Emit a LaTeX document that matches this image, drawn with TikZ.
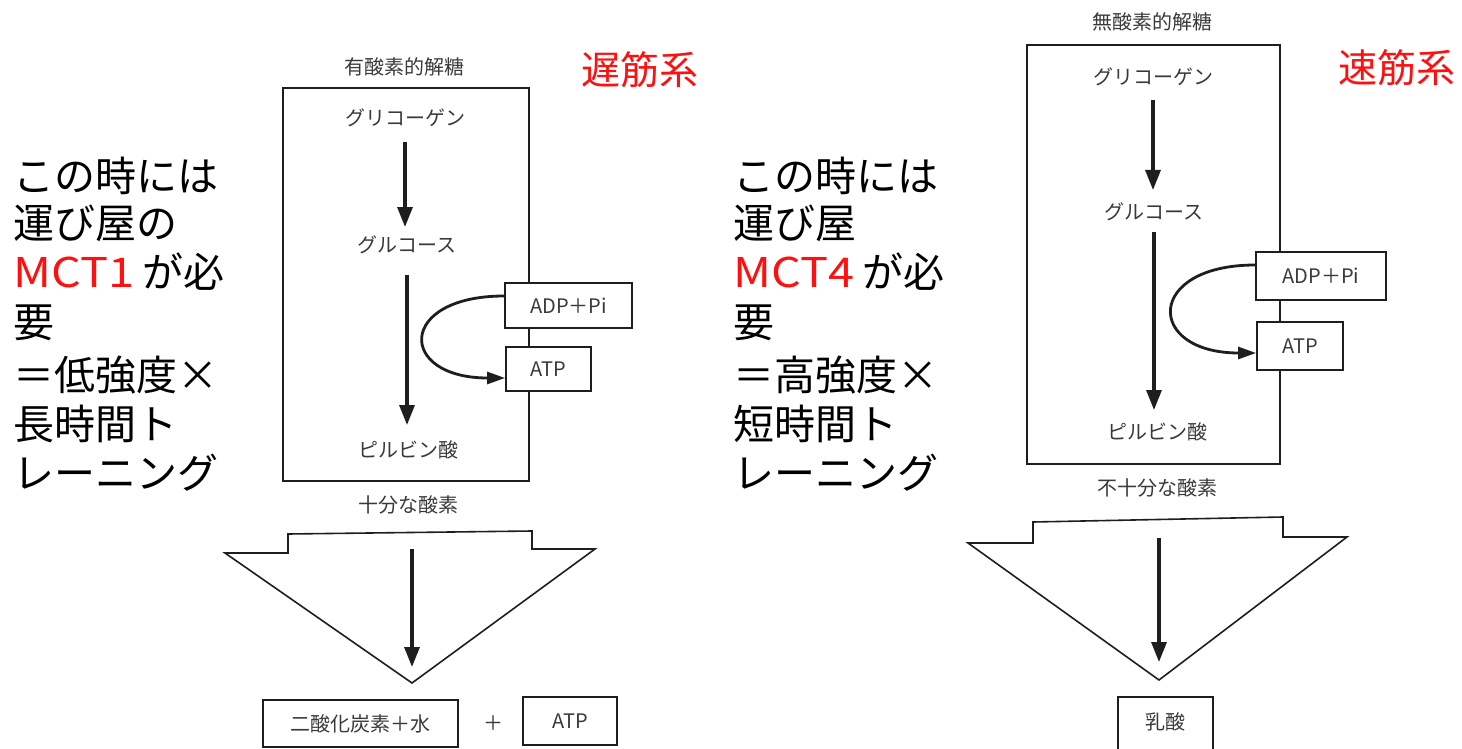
\documentclass[tikz,border=0pt]{standalone}
\usepackage{fontspec}
\setmainfont{Noto Sans CJK JP}
\usetikzlibrary{arrows.meta}
\definecolor{txtgray}{HTML}{3A3A3A}
\definecolor{linec}{HTML}{1E1E1E}
\definecolor{redc}{HTML}{FF1010}
\newcommand{\widemct}[1]{\textcolor{redc}{\scalebox{1.14}[1]{#1}}\hspace{4pt}}
\tikzset{
  lab/.style={font=\fontsize{10}{12}\selectfont, text=txtgray, inner sep=1pt},
  big/.style={font=\fontsize{20.5}{25}\selectfont, text=black, anchor=west, inner sep=0pt},
  redtitle/.style={font=\fontsize{19.5}{23}\selectfont, text=redc, inner sep=0pt},
  boxnode/.style={draw=linec, line width=0.9pt, fill=white, inner sep=0pt, font=\fontsize{10}{12}\selectfont, text=txtgray},
  frame/.style={draw=linec, line width=0.9pt},
  funnel/.style={draw=linec, line width=0.8pt, fill=white, line join=miter},
  arr/.style={draw=linec, line width=1.6pt, -{Triangle[length=10pt,width=7.5pt]}},
  carr/.style={draw=linec, line width=1.4pt, -{Triangle[length=9pt,width=6pt]}}
}
\begin{document}
\begin{tikzpicture}[x=0.5pt,y=-0.5pt]
\useasboundingbox[fill=white] (0,0) rectangle (1462,749);

% ---------- left annotation ----------
\node[big] (l1) at (13,176) {この時には};
\node[big] (l2) at (13,223) {運び屋の};
\node[big] (l3) at (13,272) {\widemct{MCT1}が必};
\node[big] (l4) at (13,323) {要};
\node[big] (l5) at (13,375) {＝低強度×};
\node[big] (l6) at (13,424) {長時間ト};
\node[big] (l7) at (13,473) {レーニング};

% ---------- right annotation ----------
\node[big] (r1) at (733,176) {この時には};
\node[big] (r2) at (733,223) {運び屋};
\node[big] (r3) at (733,272) {\widemct{MCT4}が必};
\node[big] (r4) at (733,323) {要};
\node[big] (r5) at (733,375) {＝高強度×};
\node[big] (r6) at (733,424) {短時間ト};
\node[big] (r7) at (733,473) {レーニング};

% ---------- red titles ----------
\node[redtitle] (slow) at (640,70) {遅筋系};
\node[redtitle] (fast) at (1397,68) {速筋系};

% ================= LEFT DIAGRAM =================
\node[lab] (ltitle) at (404,67) {有酸素的解糖};
\draw[frame] (283,88) rectangle (529,481);
\node[lab] (lgly) at (405,118) {グリコーゲン};
\node[lab] (lglu) at (407,245) {グルコース};
\node[lab] (lpyr) at (408,450) {ピルビン酸};
\draw[arr, shorten <=12pt, shorten >=9pt] (lgly.center) -- (lgly.center |- lglu.center);
\draw[arr, shorten <=15pt, shorten >=12.5pt] (lglu.center) -- (lglu.center |- lpyr.center);
\node[boxnode, minimum width=63.5pt, minimum height=22.5pt] (ladp) at (568.5,305.5) {ADP＋Pi};
\node[boxnode, minimum width=42.5pt, minimum height=22pt] (latp) at (548.5,369) {ATP};
\draw[carr] ([yshift=4.75pt]ladp.west) .. controls (397,296) and (397,378) .. ([yshift=-4.5pt]latp.west);

\node[lab] (loxy) at (408,505) {十分な酸素};
\draw[funnel] (225,553) -- (288,553) -- (288,534) -- (532,531) -- (532,549) -- (595,549) -- (412,683) -- cycle;
\coordinate (ltop) at (412,549);
\coordinate (lapex) at (412,683);
\draw[arr, shorten >=8pt] (ltop) -- (lapex);

\node[boxnode, minimum width=97.5pt, minimum height=23.5pt] (lco2) at (360.5,723.5) {二酸化炭素＋水};
\node[lab, text=txtgray] (lplus) at (493,723) {＋};
\node[boxnode, minimum width=47pt, minimum height=24pt] (latp2) at (570,721) {ATP};

% ================= RIGHT DIAGRAM =================
\node[lab] (rtitle) at (1152,22) {無酸素的解糖};
\draw[frame] (1027,45) rectangle (1280,464);
\node[lab] (rgly) at (1153,77) {グリコーゲン};
\node[lab] (rglu) at (1154,212) {グルコース};
\node[lab] (rpyr) at (1157,432) {ピルビン酸};
\draw[arr, shorten <=11.5pt, shorten >=11pt] (rgly.center) -- (rgly.center |- rglu.center);
\draw[arr, shorten <=10pt, shorten >=11pt] (rglu.center) -- (rglu.center |- rpyr.center);
\node[boxnode, minimum width=65pt, minimum height=24pt] (radp) at (1321,276) {ADP＋Pi};
\node[boxnode, minimum width=43pt, minimum height=24pt] (ratp) at (1300,346) {ATP};
\draw[carr] ([yshift=5.5pt]radp.west) .. controls (1145,265) and (1145,353) .. ([yshift=-3.5pt]ratp.west);

\node[lab] (roxy) at (1157,488) {不十分な酸素};
\draw[funnel] (968,543) -- (1033,543) -- (1033,522) -- (1283,517) -- (1283,537) -- (1347,537) -- (1159,680) -- cycle;
\coordinate (rtop) at (1159,538);
\coordinate (rapex) at (1159,680);
\draw[arr, shorten >=9pt] (rtop) -- (rapex);

\draw[frame, fill=white] (1118,697) rectangle (1213,770);
\node[lab] (rlac) at (1165,722) {乳酸};
\end{tikzpicture}
\end{document}
